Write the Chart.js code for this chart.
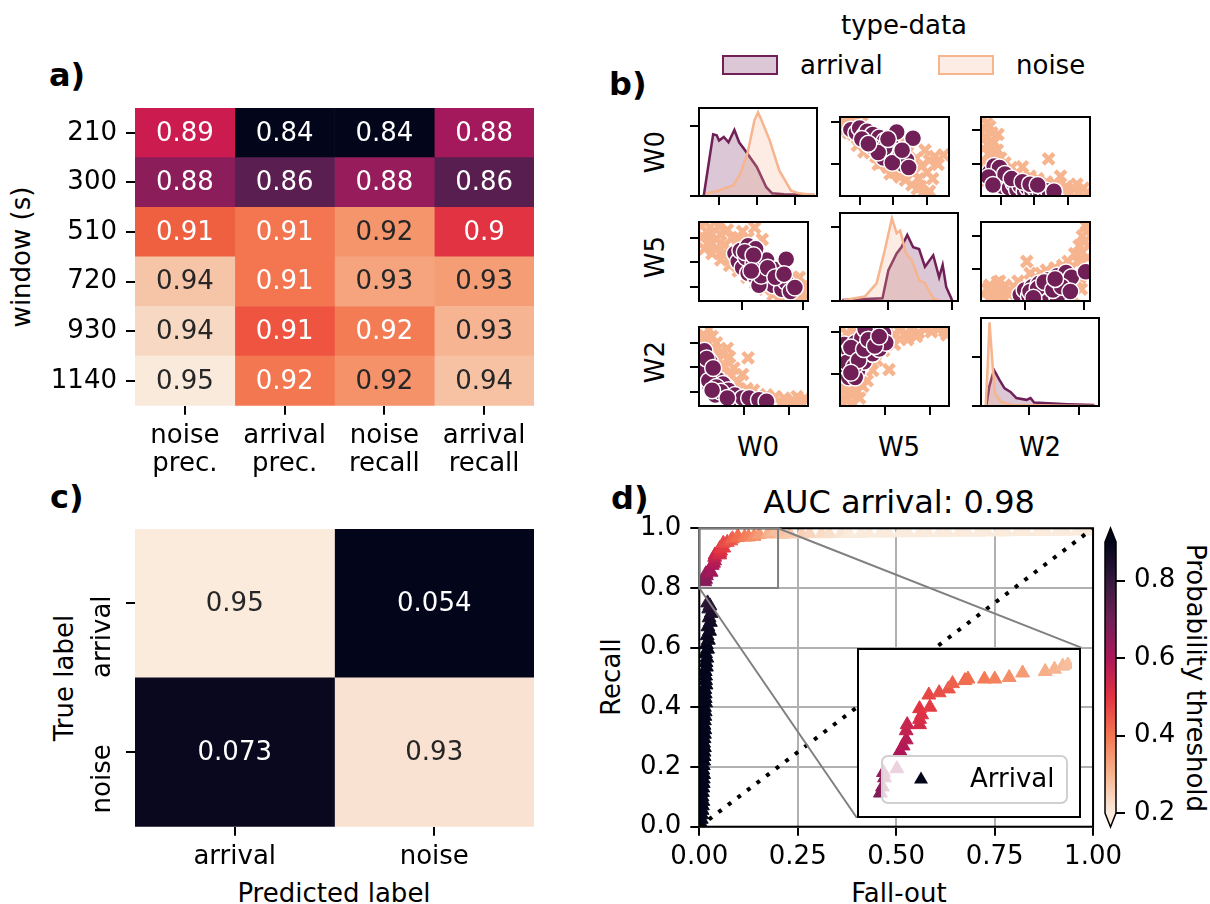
<!DOCTYPE html>
<html>
<head>
<meta charset="utf-8">
<script src="https://cdn.jsdelivr.net/npm/chart.js@4.4.1/dist/chart.umd.min.js"></script>
<style>
  html, body { margin: 0; padding: 0; background: #fff; }
  body { position: relative; width: 1210px; height: 904px; overflow: hidden; font-family: "DejaVu Sans", sans-serif; color: #000; }
  canvas { position: absolute; }
  .txt { position: absolute; white-space: nowrap; font-size: 26px; line-height: 1; transform: translate(-50%, -50%); }
  .up { transform: translate(-50%, -50%) rotate(-90deg); }
  .down { transform: translate(-50%, -50%) rotate(90deg); }
  .left { transform: translateY(-50%); }
  .panel { position: absolute; font-size: 32px; font-weight: bold; line-height: 1; transform: translateY(-50%); }
  .patch { position: absolute; box-sizing: border-box; border: 2px solid; width: 56px; height: 20px; }
</style>
</head>
<body>
<div class="panel" style="left:49px;top:75px">a)</div>
<div class="panel" style="left:609px;top:84px">b)</div>
<div class="panel" style="left:50px;top:497px">c)</div>
<div class="panel" style="left:611px;top:498px">d)</div>

<div class="txt up" style="left:21px;top:257px">window (s)</div>

<div class="txt" style="left:904px;top:25px">type-data</div>
<div class="patch" style="left:722px;top:55px;border-color:#701f57;background:rgba(112,31,87,0.25)"></div>
<div class="txt left" style="left:800px;top:65px">arrival</div>
<div class="patch" style="left:938px;top:55px;border-color:#f6b48f;background:rgba(246,180,143,0.25)"></div>
<div class="txt left" style="left:1016px;top:65px">noise</div>

<div class="txt up" style="left:64px;top:678px">True label</div>
<div class="txt" style="left:334px;top:893px">Predicted label</div>

<div class="txt" style="left:899px;top:502px;font-size:32px">AUC arrival: 0.98</div>
<div class="txt up" style="left:611px;top:677px">Recall</div>
<div class="txt" style="left:899px;top:893px">Fall-out</div>
<div class="txt down" style="left:1196px;top:678px">Probability threshold</div>

<script>
// ---------------- data ----------------
// a) scores per window (rows) and metric (columns)
const windows = ['210', '300', '510', '720', '930', '1140'];
const metrics = [['noise', 'prec.'], ['arrival', 'prec.'], ['noise', 'recall'], ['arrival', 'recall']];
const scores = [
  [0.89, 0.84, 0.84, 0.88],
  [0.88, 0.86, 0.88, 0.86],
  [0.91, 0.91, 0.92, 0.90],
  [0.94, 0.91, 0.93, 0.93],
  [0.94, 0.91, 0.92, 0.93],
  [0.95, 0.92, 0.92, 0.94]
];
// cell shades
const heatShades = [
  ['#cb1b4f', '#03051a', '#03051a', '#a3195b'],
  ['#8c1d5b', '#5a1e51', '#961c5b', '#581e50'],
  ['#ef6040', '#f37651', '#f5956c', '#e13342'],
  ['#f6c5a7', '#f37651', '#f6a47e', '#f59e76'],
  ['#f7d8c3', '#ee5440', '#f37c55', '#f6b492'],
  ['#faeadc', '#f37852', '#f5926a', '#f6c2a3']
];

// c) normalised confusion matrix
const classes = ['arrival', 'noise'];
const confusion = [[0.95, 0.054], [0.073, 0.93]];

// b) pair plot (each axis scaled 0..1)
const pairVars = ['W0', 'W5', 'W2'];
const kdeW0Arrival = [[0.04,0],[0.09,0.44],[0.12,0.70],[0.15,0.69],[0.17,0.63],[0.21,0.67],[0.25,0.61],[0.30,0.75],[0.34,0.61],[0.39,0.52],[0.49,0.33],[0.57,0.10],[0.62,0.03],[0.72,0.02],[0.98,0.01]];
const kdeW0Noise = [[0.06,0.03],[0.16,0.06],[0.29,0.12],[0.35,0.25],[0.41,0.48],[0.47,0.86],[0.50,0.95],[0.53,0.86],[0.60,0.63],[0.68,0.29],[0.78,0.06],[0.85,0.03],[0.98,0.01]];
const kdeW5Arrival = [[0.02,0.01],[0.36,0.03],[0.41,0.35],[0.48,0.54],[0.52,0.61],[0.57,0.75],[0.62,0.61],[0.67,0.59],[0.72,0.39],[0.79,0.52],[0.84,0.27],[0.87,0.41],[0.90,0.16],[0.95,0.01]];
const kdeW5Noise = [[0.03,0.01],[0.21,0.05],[0.31,0.20],[0.38,0.58],[0.44,0.94],[0.48,0.77],[0.51,0.80],[0.56,0.54],[0.61,0.46],[0.67,0.24],[0.72,0.20],[0.79,0.03],[0.84,0.01]];
const kdeW2Arrival = [[0.046,0.01],[0.07,0.22],[0.11,0.41],[0.155,0.30],[0.20,0.20],[0.25,0.16],[0.30,0.09],[0.385,0.07],[0.42,0.09],[0.45,0.04],[0.73,0.02],[0.96,0.01]];
const kdeW2Noise = [[0.04,0.01],[0.056,0.44],[0.072,0.95],[0.10,0.44],[0.12,0.14],[0.17,0.05],[0.27,0.01],[0.98,0]];

const arrival_W0_W5 = [[0.10,0.84],[0.15,0.80],[0.18,0.86],[0.22,0.76],[0.25,0.82],[0.28,0.70],[0.30,0.78],[0.33,0.66],[0.36,0.74],[0.38,0.62],[0.41,0.70],[0.43,0.60],[0.45,0.52],[0.47,0.65],[0.50,0.56],[0.52,0.45],[0.55,0.50],[0.58,0.40],[0.61,0.46],[0.63,0.36],[0.52,0.81],[0.67,0.73],[0.40,0.48],[0.30,0.62],[0.41,0.61],
  [0.20,0.72],[0.35,0.55],[0.48,0.42],[0.26,0.66],[0.44,0.72],[0.57,0.58]];
const noise_W0_W5 = [[0.03,0.97],[0.06,0.92],[0.10,0.95],[0.05,0.85],[0.14,0.90],[0.20,0.93],[0.12,0.78],[0.18,0.70],[0.24,0.62],[0.28,0.55],[0.33,0.50],[0.38,0.42],[0.44,0.36],[0.50,0.30],[0.55,0.24],[0.60,0.20],[0.66,0.14],[0.71,0.09],[0.76,0.04],[0.80,0.02],[0.62,0.55],[0.70,0.48],[0.75,0.38],[0.80,0.30],[0.85,0.22],[0.68,0.30],[0.72,0.22],[0.78,0.58],[0.87,0.50],[0.95,0.52],[0.65,0.70],[0.55,0.66],[0.82,0.06],
  [0.08,0.80],[0.16,0.64],[0.22,0.56],[0.35,0.40],[0.46,0.28],[0.58,0.30],[0.64,0.40],[0.74,0.12],[0.90,0.40],[0.82,0.45]];
const arrival_W0_W2 = [[0.08,0.30],[0.10,0.22],[0.13,0.32],[0.15,0.18],[0.18,0.26],[0.20,0.12],[0.23,0.20],[0.26,0.10],[0.30,0.16],[0.33,0.08],[0.36,0.13],[0.40,0.06],[0.43,0.10],[0.47,0.05],[0.50,0.09],[0.55,0.04],[0.59,0.07],[0.63,0.03],[0.67,0.06],[0.12,0.38],[0.17,0.36],
  [0.07,0.24],[0.22,0.28],[0.28,0.22],[0.38,0.18],[0.45,0.15],[0.52,0.14],[0.11,0.14]];
const noise_W0_W2 = [[0.02,0.98],[0.05,0.92],[0.03,0.85],[0.08,0.88],[0.04,0.75],[0.10,0.80],[0.155,0.78],[0.06,0.65],[0.12,0.68],[0.08,0.55],[0.15,0.58],[0.10,0.45],[0.18,0.48],[0.22,0.42],[0.28,0.36],[0.38,0.37],[0.33,0.28],[0.45,0.25],[0.52,0.22],[0.62,0.47],[0.60,0.18],[0.68,0.15],[0.73,0.25],[0.78,0.12],[0.85,0.10],[0.94,0.10],[0.90,0.05],[0.97,0.04],[0.25,0.15],[0.40,0.10],[0.55,0.06],[0.70,0.04],[0.82,0.03],[0.03,0.35],[0.05,0.20],
  [0.02,0.60],[0.14,0.50],[0.20,0.36],[0.26,0.30],[0.35,0.22],[0.48,0.16],[0.62,0.10],[0.75,0.08],[0.88,0.15],[0.02,0.45]];
const arrival_W5_W0 = [[0.33,0.60],[0.36,0.50],[0.38,0.64],[0.40,0.42],[0.43,0.55],[0.45,0.35],[0.47,0.62],[0.50,0.48],[0.52,0.30],[0.55,0.40],[0.58,0.44],[0.60,0.25],[0.62,0.52],[0.65,0.34],[0.68,0.20],[0.70,0.40],[0.73,0.28],[0.76,0.15],[0.80,0.24],[0.84,0.12],[0.88,0.17],[0.80,0.53],[0.55,0.20],[0.45,0.70],[0.52,0.66],
  [0.42,0.62],[0.50,0.58],[0.57,0.32],[0.63,0.42],[0.70,0.30],[0.78,0.34],[0.48,0.38]];
const noise_W5_W0 = [[0.03,0.82],[0.07,0.88],[0.12,0.85],[0.10,0.76],[0.16,0.78],[0.20,0.84],[0.26,0.90],[0.30,0.80],[0.51,0.93],[0.40,0.88],[0.24,0.71],[0.34,0.72],[0.45,0.80],[0.05,0.66],[0.12,0.60],[0.20,0.52],[0.28,0.45],[0.36,0.38],[0.44,0.30],[0.52,0.22],[0.60,0.15],[0.68,0.08],[0.75,0.03],[0.92,0.30],[0.95,0.10],[0.97,0.20],[0.86,0.30],[0.58,0.78],[0.18,0.95],
  [0.08,0.72],[0.15,0.66],[0.22,0.60],[0.30,0.55],[0.36,0.80],[0.42,0.76],[0.02,0.95],[0.10,0.93],[0.88,0.22],[0.93,0.05]];
const arrival_W5_W2 = [[0.36,0.08],[0.40,0.14],[0.44,0.06],[0.47,0.18],[0.50,0.10],[0.53,0.22],[0.56,0.05],[0.59,0.15],[0.62,0.27],[0.64,0.09],[0.67,0.20],[0.70,0.32],[0.72,0.12],[0.75,0.25],[0.78,0.36],[0.80,0.18],[0.83,0.30],[0.60,0.10],[0.96,0.37],[0.70,0.05],
  [0.45,0.12],[0.52,0.16],[0.58,0.24],[0.66,0.14],[0.74,0.18],[0.82,0.12],[0.68,0.28],[0.48,0.04]];
const noise_W5_W2 = [[0.02,0.09],[0.06,0.15],[0.10,0.06],[0.15,0.24],[0.18,0.12],[0.22,0.20],[0.26,0.08],[0.30,0.18],[0.34,0.25],[0.40,0.20],[0.42,0.50],[0.60,0.39],[0.50,0.30],[0.68,0.42],[0.75,0.45],[0.82,0.42],[0.89,0.50],[0.86,0.60],[0.92,0.62],[0.95,0.75],[0.90,0.70],[0.97,0.88],[0.96,0.95],[0.93,0.82],[0.98,0.55],[0.88,0.25],[0.92,0.15],[0.55,0.02],[0.85,0.05],[0.17,0.25],
  [0.08,0.20],[0.13,0.10],[0.20,0.05],[0.28,0.12],[0.36,0.10],[0.45,0.35],[0.55,0.35],[0.72,0.38],[0.80,0.50],[0.94,0.40],[0.99,0.70],[0.91,0.30]];
const arrival_W2_W0 = [[0.03,0.62],[0.05,0.52],[0.08,0.44],[0.06,0.36],[0.10,0.56],[0.12,0.40],[0.14,0.30],[0.10,0.25],[0.17,0.34],[0.19,0.22],[0.22,0.28],[0.24,0.16],[0.27,0.20],[0.30,0.10],[0.33,0.14],[0.36,0.06],[0.40,0.10],[0.05,0.70],[0.46,0.10],[0.55,0.08],[0.62,0.06],[0.15,0.14],
  [0.04,0.44],[0.07,0.60],[0.09,0.32],[0.13,0.48],[0.16,0.24],[0.20,0.18],[0.26,0.10],[0.12,0.20]];
const noise_W2_W0 = [[0.09,0.97],[0.04,0.90],[0.12,0.88],[0.03,0.80],[0.08,0.78],[0.16,0.80],[0.26,0.73],[0.20,0.68],[0.28,0.62],[0.45,0.61],[0.24,0.50],[0.32,0.48],[0.30,0.38],[0.36,0.30],[0.40,0.40],[0.44,0.22],[0.50,0.20],[0.55,0.14],[0.62,0.14],[0.70,0.12],[0.78,0.10],[0.86,0.08],[0.92,0.05],[0.97,0.10],[0.75,0.03],[0.52,0.03],[0.66,0.02],[0.85,0.02],[0.95,0.02],[0.28,0.02],
  [0.02,0.70],[0.06,0.88],[0.14,0.72],[0.18,0.58],[0.22,0.40],[0.34,0.20],[0.42,0.14],[0.60,0.06],[0.80,0.05],[0.90,0.12]];
const arrival_W2_W5 = [[0.04,0.78],[0.06,0.62],[0.08,0.70],[0.10,0.52],[0.12,0.61],[0.14,0.80],[0.16,0.44],[0.18,0.68],[0.20,0.86],[0.22,0.56],[0.25,0.76],[0.28,0.90],[0.30,0.66],[0.33,0.84],[0.36,0.72],[0.40,0.92],[0.05,0.45],[0.08,0.36],[0.23,0.97],[0.14,0.36],[0.42,0.80],
  [0.06,0.55],[0.10,0.74],[0.13,0.50],[0.17,0.58],[0.22,0.72],[0.26,0.84],[0.32,0.76],[0.36,0.88],[0.10,0.42]];
const noise_W2_W5 = [[0.02,0.98],[0.06,0.92],[0.12,0.95],[0.45,0.97],[0.49,0.90],[0.55,0.95],[0.60,0.92],[0.66,0.96],[0.72,0.93],[0.78,0.97],[0.84,0.94],[0.90,0.97],[0.96,0.95],[0.98,0.90],[0.45,0.46],[0.34,0.58],[0.40,0.70],[0.50,0.78],[0.30,0.45],[0.25,0.32],[0.21,0.25],[0.15,0.20],[0.10,0.14],[0.06,0.07],[0.03,0.03],[0.02,0.20],[0.12,0.03],[0.18,0.10],[0.04,0.30],
  [0.30,0.94],[0.36,0.98],[0.22,0.97],[0.42,0.88],[0.55,0.85],[0.28,0.55],[0.18,0.30],[0.08,0.22],[0.02,0.10],[0.70,0.88],[0.62,0.84]];

// unlabeled tick positions of each pair-plot cell
const pairTicksX = [
  [[0.17,0.49,0.81], [0.18,0.49,0.80], [0.18,0.49,0.80]],
  [[0.39,0.95], [0.41,0.95], [0.405,0.944]],
  [[0.41,0.825], [0.41,0.826], [0.405,0.83]]
];
const pairTicksY = [
  [[0,0.795], [0.406,0.936], [0.406,0.83]],
  [[0.18,0.49,0.80], [0,0.838], [0.408,0.826]],
  [[0.18,0.49,0.80], [0.408,0.937], [0,0.558]]
];

// d) ROC points: fall-out, recall, probability threshold
const rocFpr = [0.004,0.006,0.008,0.007,0.009,0.010,0.009,0.011,0.012,0.011,0.013,0.012,0.014,0.013,0.015,0.014,0.016,0.015,0.017,0.016,0.018,0.020,0.022,0.025,0.024,0.021,
  0.005,0.007,0.009,0.008,0.010,0.011,0.010,0.012,0.013,0.012,0.014,0.013,0.015,0.016,0.015,0.017,0.016,0.018,0.019,0.021,0.023,0.026,0.028,0.030,0.027,
  0.014,0.016,0.018,0.017,0.030,0.033,0.036,0.039,0.039,0.040,0.052,0.052,0.054,0.052,0.062,0.061,0.071,0.080,0.084,0.096,0.099,0.115,0.125,0.139,0.152,0.174,0.183,0.191,0.196,
  0.21,0.23,0.26,0.28,0.31,0.33,0.36,0.38,0.41,0.43,0.46,0.48,0.51,0.53,0.56,0.58,0.61,0.63,0.66,0.68,0.71,0.73,0.76,0.78,0.81,0.83,0.86,0.88,0.91,0.93,0.96,0.98,1.00];
const rocTpr = [0.01,0.04,0.07,0.10,0.13,0.16,0.19,0.22,0.25,0.28,0.31,0.34,0.37,0.40,0.43,0.46,0.49,0.52,0.55,0.58,0.61,0.64,0.67,0.70,0.73,0.75,
  0.025,0.055,0.085,0.115,0.145,0.175,0.205,0.235,0.265,0.295,0.325,0.355,0.385,0.415,0.445,0.475,0.505,0.535,0.565,0.595,0.625,0.655,0.685,0.715,0.74,
  0.821,0.829,0.841,0.848,0.853,0.876,0.883,0.891,0.903,0.911,0.911,0.918,0.924,0.932,0.934,0.950,0.953,0.958,0.965,0.969,0.971,0.971,0.971,0.973,0.979,0.981,0.984,0.988,0.990,
  0.980,0.981,0.981,0.982,0.982,0.982,0.983,0.983,0.983,0.984,0.984,0.984,0.985,0.985,0.985,0.986,0.986,0.986,0.987,0.987,0.987,0.988,0.988,0.988,0.989,0.989,0.989,0.990,0.990,0.990,0.991,0.991,0.992];
const rocThr = [0.97,0.96,0.96,0.95,0.95,0.95,0.94,0.94,0.94,0.93,0.93,0.93,0.92,0.92,0.92,0.92,0.91,0.91,0.91,0.90,0.90,0.89,0.88,0.86,0.84,0.82,
  0.97,0.96,0.96,0.95,0.95,0.95,0.94,0.94,0.93,0.93,0.93,0.92,0.92,0.92,0.92,0.91,0.91,0.91,0.90,0.90,0.89,0.88,0.87,0.85,0.83,
  0.67,0.66,0.65,0.64,0.62,0.60,0.59,0.58,0.56,0.55,0.53,0.52,0.51,0.50,0.49,0.47,0.46,0.45,0.43,0.42,0.41,0.39,0.38,0.36,0.34,0.31,0.30,0.29,0.28,
  0.27,0.26,0.25,0.24,0.23,0.22,0.21,0.20,0.19,0.18,0.17,0.16,0.15,0.14,0.13,0.12,0.11,0.10,0.09,0.08,0.07,0.06,0.05,0.05,0.04,0.04,0.03,0.03,0.02,0.02,0.01,0.01,0.00];
const thrMin = 0.2, thrMax = 0.9;
const cbTicks = [0.2, 0.4, 0.6, 0.8];
const zoomX = [0, 0.2], zoomY = [0.8, 1.0];

// ---------------- helpers ----------------
const rocketStops = ['#03051a', '#35193e', '#701f57', '#ad1759', '#e13342', '#f37651', '#f6b48f', '#faebdd'];
function hexRgb(h) { const n = parseInt(h.slice(1), 16); return [n >> 16 & 255, n >> 8 & 255, n & 255]; }
function rocket(p) {
  p = Math.min(1, Math.max(0, p));
  const f = p * (rocketStops.length - 1);
  const i = Math.min(Math.floor(f), rocketStops.length - 2), t = f - i;
  const a = hexRgb(rocketStops[i]), b = hexRgb(rocketStops[i + 1]);
  return '#' + a.map((v, k) => Math.round(v + (b[k] - v) * t).toString(16).padStart(2, '0')).join('');
}
const thrColor = t => rocket(1 - (t - thrMin) / (thrMax - thrMin));
function luminance(hex) {
  const c = hexRgb(hex).map(v => { v /= 255; return v <= 0.03928 ? v / 12.92 : Math.pow((v + 0.055) / 1.055, 2.4); });
  return 0.2126 * c[0] + 0.7152 * c[1] + 0.0722 * c[2];
}
const fmt2g = v => String(Number(v.toPrecision(2)));

function makeCanvas(left, top, w, h) {
  const c = document.createElement('canvas');
  c.width = w; c.height = h;
  c.style.left = left + 'px'; c.style.top = top + 'px';
  c.style.width = w + 'px'; c.style.height = h + 'px';
  document.body.appendChild(c);
  return c;
}
function tickGrid(extra) {
  return Object.assign({ display: true, drawOnChartArea: false, drawTicks: true, tickLength: 9,
    tickColor: '#000', tickWidth: 2, color: '#000', lineWidth: 2 }, extra || {});
}
const framePlugin = {
  id: 'frame',
  afterDraw(chart) {
    const a = chart.chartArea, ctx = chart.ctx;
    ctx.save(); ctx.strokeStyle = '#000'; ctx.lineWidth = 2;
    ctx.strokeRect(a.left, a.top, a.right - a.left, a.bottom - a.top);
    ctx.restore();
  }
};
// annotate heatmap cells (horizontal floating bars)
function cellText(values) {
  return {
    id: 'cellText',
    afterDatasetsDraw(chart) {
      const ctx = chart.ctx;
      ctx.save();
      ctx.font = '26px "DejaVu Sans"';
      ctx.textAlign = 'center'; ctx.textBaseline = 'middle';
      chart.data.datasets.forEach((ds, j) => {
        chart.getDatasetMeta(j).data.forEach((bar, i) => {
          ctx.fillStyle = luminance(ds.backgroundColor[i]) > 0.38 ? '#262626' : '#ffffff';
          ctx.fillText(fmt2g(values[i][j]), (bar.x + bar.base) / 2, bar.y + 1);
        });
      });
      ctx.restore();
    }
  };
}

Chart.defaults.font.family = '"DejaVu Sans", sans-serif';
Chart.defaults.font.size = 26;
Chart.defaults.color = '#000';
Chart.defaults.animation = false;
Chart.defaults.responsive = false;
Chart.defaults.events = [];
Chart.defaults.plugins.legend.display = false;
Chart.defaults.plugins.tooltip.enabled = false;

// ---------------- a) heatmap ----------------
new Chart(makeCanvas(0, 78, 545, 412), {
  type: 'bar',
  data: {
    labels: windows,
    datasets: metrics.map((m, j) => ({
      data: windows.map(() => [j, j + 1]),
      backgroundColor: windows.map((w, i) => heatShades[i][j]),
      borderWidth: 0, grouped: false, barPercentage: 1, categoryPercentage: 1
    }))
  },
  options: {
    indexAxis: 'y',
    layout: { padding: { top: 30, right: 11, left: 0, bottom: 0 } },
    scales: {
      x: {
        type: 'linear', min: 0, max: metrics.length,
        afterBuildTicks: s => { s.ticks = metrics.map((m, j) => ({ value: j + 0.5 })); },
        ticks: { autoSkip: false, maxRotation: 0, padding: 7, font: { lineHeight: 1.09 }, callback: v => metrics[Math.floor(v)] },
        grid: tickGrid(), border: { display: false },
        afterFit: s => { s.height = 84.3; }
      },
      y: {
        ticks: { autoSkip: false, padding: 9 },
        grid: tickGrid({ offset: false }), border: { display: false },
        afterFit: s => { s.width = 135; }
      }
    }
  },
  plugins: [cellText(scores)]
});

// ---------------- c) confusion matrix ----------------
const cmMin = Math.min(...confusion.flat()), cmMax = Math.max(...confusion.flat());
new Chart(makeCanvas(0, 515, 545, 389), {
  type: 'bar',
  data: {
    labels: classes,
    datasets: classes.map((c, j) => ({
      data: classes.map(() => [j, j + 1]),
      backgroundColor: classes.map((r, i) => rocket((confusion[i][j] - cmMin) / (cmMax - cmMin))),
      borderWidth: 0, grouped: false, barPercentage: 1, categoryPercentage: 1
    }))
  },
  options: {
    indexAxis: 'y',
    layout: { padding: { top: 14, right: 11, left: 0, bottom: 0 } },
    scales: {
      x: {
        type: 'linear', min: 0, max: classes.length,
        afterBuildTicks: s => { s.ticks = classes.map((c, j) => ({ value: j + 0.5 })); },
        ticks: { autoSkip: false, maxRotation: 0, padding: 7, font: { lineHeight: 1.09 }, callback: v => classes[Math.floor(v)] },
        grid: tickGrid(), border: { display: false },
        afterFit: s => { s.height = 77.3; }
      },
      y: {
        ticks: { display: false },
        grid: tickGrid({ offset: false }), border: { display: false },
        afterFit: s => { s.width = 135; }
      }
    }
  },
  plugins: [cellText(confusion), {
    id: 'rotatedY',
    afterDraw(chart) {
      const ctx = chart.ctx, ys = chart.scales.y;
      ctx.save();
      ctx.font = '26px "DejaVu Sans"'; ctx.fillStyle = '#000';
      ctx.textAlign = 'right'; ctx.textBaseline = 'middle';
      classes.forEach((c, i) => {
        ctx.save();
        ctx.translate(103, ys.getPixelForValue(i) - 8);
        ctx.rotate(-Math.PI / 2);
        ctx.fillText(c, 0, 0);
        ctx.restore();
      });
      ctx.restore();
    }
  }]
});

// ---------------- b) pair plot ----------------
const colLeft = [699, 840, 981], rowTop = [108, 213, 318], boxW = 118, boxH = 88;
const pairKde = { 0: [kdeW0Arrival, kdeW0Noise], 1: [kdeW5Arrival, kdeW5Noise], 2: [kdeW2Arrival, kdeW2Noise] };
const pairPts = {
  '0,1': [arrival_W0_W5, noise_W0_W5], '0,2': [arrival_W0_W2, noise_W0_W2],
  '1,0': [arrival_W5_W0, noise_W5_W0], '1,2': [arrival_W5_W2, noise_W5_W2],
  '2,0': [arrival_W2_W0, noise_W2_W0], '2,1': [arrival_W2_W5, noise_W2_W5]
};
const toXY = arr => arr.map(([x, y]) => ({ x, y }));
const arrivalCol = '#701f57', noiseCol = '#f6b48f';

for (let r = 0; r < 3; r++) {
  for (let c = 0; c < 3; c++) {
    let datasets;
    if (r === c) {
      const [ka, kn] = pairKde[r];
      datasets = [
        { type: 'line', data: toXY(kn), borderColor: noiseCol, backgroundColor: 'rgba(246,180,143,0.25)', fill: 'origin', borderWidth: 2.5, pointRadius: 0, tension: 0 },
        { type: 'line', data: toXY(ka), borderColor: arrivalCol, backgroundColor: 'rgba(112,31,87,0.25)', fill: 'origin', borderWidth: 2.5, pointRadius: 0, tension: 0 }
      ];
    } else {
      const [pa, pn] = pairPts[r + ',' + c];
      datasets = [
        { data: toXY(pa), pointRadius: 8.5, pointBackgroundColor: arrivalCol, pointBorderColor: '#fff', pointBorderWidth: 1.5, clip: 0 },
        { data: toXY(pn), pointStyle: 'crossRot', pointRadius: 7.5, pointBorderColor: noiseCol, pointBackgroundColor: noiseCol, pointBorderWidth: 4.5, clip: 0 }
      ];
    }
    new Chart(makeCanvas(colLeft[c] - 12, rowTop[r] - 3, boxW + 15, boxH + 15), {
      type: 'scatter',
      data: { datasets },
      options: {
        layout: { padding: { top: 3, right: 3, left: 0, bottom: 0 } },
        scales: {
          x: { type: 'linear', min: 0, max: 1,
               afterBuildTicks: s => { s.ticks = pairTicksX[r][c].map(v => ({ value: v })); },
               ticks: { display: false }, grid: tickGrid(), border: { display: false },
               afterFit: s => { s.height = 12; } },
          y: { type: 'linear', min: 0, max: 1,
               afterBuildTicks: s => { s.ticks = pairTicksY[r][c].map(v => ({ value: v })); },
               ticks: { display: false }, grid: tickGrid(), border: { display: false },
               afterFit: s => { s.width = 12; } }
        }
      },
      plugins: [framePlugin]
    });
  }
}
// pair plot variable names
pairVars.forEach((v, i) => {
  const rl = document.createElement('div');
  rl.className = 'txt up';
  rl.style.left = '655px'; rl.style.top = (rowTop[i] + boxH / 2) + 'px';
  rl.textContent = v;
  document.body.appendChild(rl);
  const cl = document.createElement('div');
  cl.className = 'txt';
  cl.style.left = (colLeft[i] + boxW / 2) + 'px'; cl.style.top = '447px';
  cl.textContent = v;
  document.body.appendChild(cl);
});

// ---------------- d) ROC ----------------
const rocPoints = rocFpr.map((x, i) => ({ x, y: rocTpr[i] }));
const rocColors = rocThr.map(thrColor);
const insetAt = { x0: 0.4, x1: 0.97, y0: 0.03, y1: 0.6 };
const rocGrid = { color: '#b0b0b0', lineWidth: 2, drawTicks: true, tickLength: 9, tickColor: '#000', tickWidth: 2 };
const triangleStyle = { pointStyle: 'triangle', pointRadius: 8, pointBackgroundColor: rocColors, pointBorderColor: rocColors, pointBorderWidth: 1, clip: 0 };
const roc = new Chart(makeCanvas(600, 495, 529, 382), {
  type: 'scatter',
  data: {
    datasets: [
      { type: 'line', data: [{ x: 0, y: 0 }, { x: 1, y: 1 }], borderColor: '#000', borderWidth: 4, borderDash: [4, 8], pointRadius: 0, fill: false },
      Object.assign({ data: rocPoints }, triangleStyle)
    ]
  },
  options: {
    layout: { padding: { top: 33.3, right: 30.4, left: 0, bottom: 0 } },
    scales: {
      x: { type: 'linear', min: 0, max: 1, ticks: { stepSize: 0.25, padding: 7, font: { lineHeight: 1.09 }, callback: v => v.toFixed(2) },
           grid: rocGrid, border: { display: false }, afterFit: s => { s.height = 50.3; } },
      y: { type: 'linear', min: 0, max: 1, ticks: { stepSize: 0.2, padding: 9, callback: v => v.toFixed(1) },
           grid: rocGrid, border: { display: false }, afterFit: s => { s.width = 99.3; } }
    }
  },
  plugins: [framePlugin, {
    id: 'zoomMark',
    afterDraw(chart) {
      const ctx = chart.ctx, xs = chart.scales.x, ys = chart.scales.y;
      const px = v => xs.getPixelForValue(v), py = v => ys.getPixelForValue(v);
      ctx.save();
      ctx.strokeStyle = '#808080'; ctx.lineWidth = 2;
      ctx.strokeRect(px(zoomX[0]), py(zoomY[1]), px(zoomX[1]) - px(zoomX[0]), py(zoomY[0]) - py(zoomY[1]));
      ctx.beginPath();
      ctx.moveTo(px(zoomX[1]), py(zoomY[1])); ctx.lineTo(px(insetAt.x1), py(insetAt.y1));
      ctx.moveTo(px(zoomX[0]), py(zoomY[0])); ctx.lineTo(px(insetAt.x0), py(insetAt.y0));
      ctx.stroke();
      ctx.restore();
    }
  }]
});

// colour bar
new Chart(makeCanvas(1100, 515, 110, 330), {
  type: 'scatter',
  data: { datasets: [] },
  options: {
    layout: { padding: { left: 5, top: 27, bottom: 32, right: 0 } },
    scales: {
      x: { display: false, min: 0, max: 1 },
      y: { position: 'right', min: thrMin, max: thrMax,
           afterBuildTicks: s => { s.ticks = cbTicks.map(v => ({ value: v })); },
           ticks: { padding: 9, callback: v => v.toFixed(1) },
           grid: tickGrid(), border: { display: false },
           afterFit: s => { s.width = 94; } }
    }
  },
  plugins: [{
    id: 'colorbar',
    beforeDatasetsDraw(chart) {
      const ctx = chart.ctx, a = chart.chartArea, ys = chart.scales.y;
      const yLo = ys.getPixelForValue(thrMin), yHi = ys.getPixelForValue(thrMax);
      const g = ctx.createLinearGradient(0, yLo, 0, yHi);
      for (let k = 0; k <= 28; k++) g.addColorStop(k / 28, rocket(1 - k / 28));
      const cx = (a.left + a.right) / 2, ext = 14;
      ctx.save();
      ctx.fillStyle = g;
      ctx.fillRect(a.left, a.top, a.right - a.left, a.bottom - a.top);
      ctx.fillStyle = rocket(0);
      ctx.beginPath(); ctx.moveTo(a.left, a.top); ctx.lineTo(cx, a.top - ext); ctx.lineTo(a.right, a.top); ctx.closePath(); ctx.fill();
      ctx.fillStyle = rocket(1);
      ctx.beginPath(); ctx.moveTo(a.left, a.bottom); ctx.lineTo(cx, a.bottom + ext); ctx.lineTo(a.right, a.bottom); ctx.closePath(); ctx.fill();
      ctx.strokeStyle = '#000'; ctx.lineWidth = 1.5;
      ctx.beginPath();
      ctx.moveTo(a.left, a.top); ctx.lineTo(cx, a.top - ext); ctx.lineTo(a.right, a.top);
      ctx.lineTo(a.right, a.bottom); ctx.lineTo(cx, a.bottom + ext); ctx.lineTo(a.left, a.bottom);
      ctx.closePath(); ctx.stroke();
      ctx.restore();
    }
  }]
});

// zoomed inset
const rx = roc.scales.x, ry = roc.scales.y;
const iLeft = Math.round(600 + rx.getPixelForValue(insetAt.x0));
const iTop = Math.round(495 + ry.getPixelForValue(insetAt.y1));
const iW = Math.round(rx.getPixelForValue(insetAt.x1) - rx.getPixelForValue(insetAt.x0));
const iH = Math.round(ry.getPixelForValue(insetAt.y0) - ry.getPixelForValue(insetAt.y1));
new Chart(makeCanvas(iLeft, iTop, iW, iH), {
  type: 'scatter',
  data: { datasets: [Object.assign({ data: rocPoints }, triangleStyle)] },
  options: {
    layout: { padding: 0 },
    scales: {
      x: { display: false, min: zoomX[0], max: zoomX[1] },
      y: { display: false, min: zoomY[0], max: zoomY[1] }
    }
  },
  plugins: [{
    id: 'insetDeco',
    beforeDraw(chart) {
      const ctx = chart.ctx;
      ctx.save(); ctx.fillStyle = '#fff'; ctx.fillRect(0, 0, chart.width, chart.height); ctx.restore();
    },
    afterDraw(chart) {
      const ctx = chart.ctx, w = chart.width, h = chart.height;
      ctx.save();
      ctx.strokeStyle = '#000'; ctx.lineWidth = 2;
      ctx.strokeRect(1, 1, w - 2, h - 2);
      // legend
      const bw = 185, bh = 47, bx = w - 14 - bw, by = h - 15 - bh;
      ctx.beginPath();
      ctx.roundRect(bx, by, bw, bh, 6);
      ctx.fillStyle = 'rgba(255,255,255,0.8)'; ctx.fill();
      ctx.strokeStyle = '#d0d0d0'; ctx.lineWidth = 2; ctx.stroke();
      const mx = bx + 39, my = by + bh / 2;
      ctx.fillStyle = rocket(0);
      ctx.beginPath();
      ctx.moveTo(mx, my - 8); ctx.lineTo(mx + 7, my + 4); ctx.lineTo(mx - 7, my + 4); ctx.closePath(); ctx.fill();
      ctx.fillStyle = '#000'; ctx.font = '26px "DejaVu Sans"'; ctx.textBaseline = 'middle'; ctx.textAlign = 'left';
      ctx.fillText('Arrival', bx + 88, my + 1);
      ctx.restore();
    }
  }]
});
</script>
</body>
</html>
